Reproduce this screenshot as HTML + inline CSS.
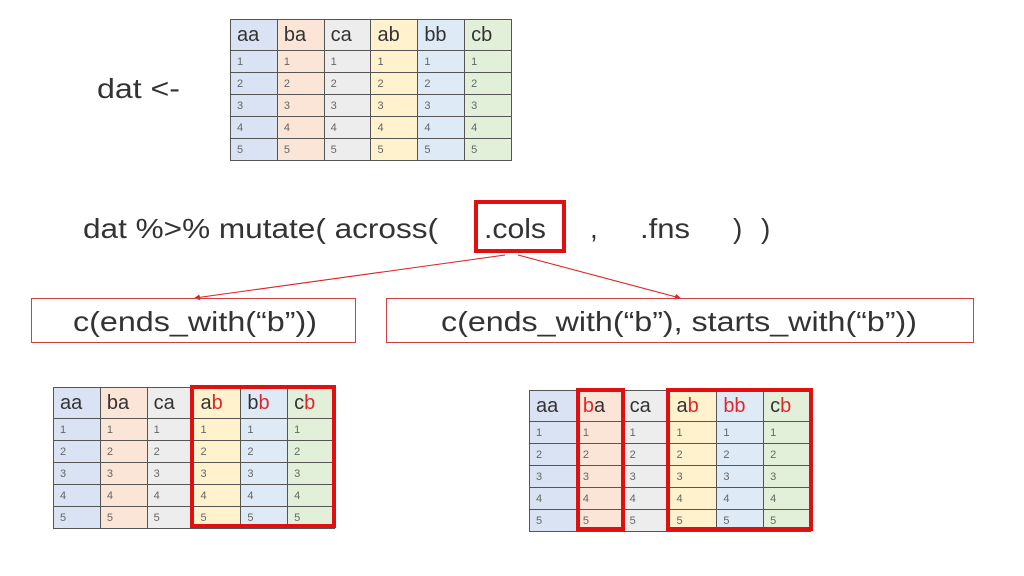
<!DOCTYPE html>
<html><head><meta charset="utf-8"><style>
body{margin:0;width:1024px;height:576px;background:#fff;position:relative;overflow:hidden;font-family:"Liberation Sans","Noto Sans CJK JP",sans-serif}
table{position:absolute;border-collapse:collapse;table-layout:fixed}
td{border:1px solid #555;padding:0 0 0 6px;font-size:11px;color:#666;height:22px;width:46px;box-sizing:border-box}
tr.h td{font-size:20px;color:#333;height:31px}
td:nth-child(1){background:#dae3f3}td:nth-child(2){background:#fbe5d6}td:nth-child(3){background:#ededed}
td:nth-child(4){background:#fff2cc}td:nth-child(5){background:#deebf7}td:nth-child(6){background:#e2f0d9}
.r{color:#e0262b}
.box{position:absolute;border:4px solid #e01010;box-sizing:border-box}
</style></head><body>
<table style="left:230px;top:19px;width:282px">
<tr class="h"><td>aa</td><td>ba</td><td>ca</td><td>ab</td><td>bb</td><td>cb</td></tr>
<tr><td>1</td><td>1</td><td>1</td><td>1</td><td>1</td><td>1</td></tr>
<tr><td>2</td><td>2</td><td>2</td><td>2</td><td>2</td><td>2</td></tr>
<tr><td>3</td><td>3</td><td>3</td><td>3</td><td>3</td><td>3</td></tr>
<tr><td>4</td><td>4</td><td>4</td><td>4</td><td>4</td><td>4</td></tr>
<tr><td>5</td><td>5</td><td>5</td><td>5</td><td>5</td><td>5</td></tr>
</table>
<table style="left:53px;top:387px;width:282px">
<tr class="h"><td>aa</td><td>ba</td><td>ca</td><td>a<span class="r">b</span></td><td>b<span class="r">b</span></td><td>c<span class="r">b</span></td></tr>
<tr><td>1</td><td>1</td><td>1</td><td>1</td><td>1</td><td>1</td></tr>
<tr><td>2</td><td>2</td><td>2</td><td>2</td><td>2</td><td>2</td></tr>
<tr><td>3</td><td>3</td><td>3</td><td>3</td><td>3</td><td>3</td></tr>
<tr><td>4</td><td>4</td><td>4</td><td>4</td><td>4</td><td>4</td></tr>
<tr><td>5</td><td>5</td><td>5</td><td>5</td><td>5</td><td>5</td></tr>
</table>
<table style="left:529px;top:390px;width:282px">
<tr class="h"><td>aa</td><td><span class="r">b</span>a</td><td>ca</td><td>a<span class="r">b</span></td><td><span class="r">bb</span></td><td>c<span class="r">b</span></td></tr>
<tr><td>1</td><td>1</td><td>1</td><td>1</td><td>1</td><td>1</td></tr>
<tr><td>2</td><td>2</td><td>2</td><td>2</td><td>2</td><td>2</td></tr>
<tr><td>3</td><td>3</td><td>3</td><td>3</td><td>3</td><td>3</td></tr>
<tr><td>4</td><td>4</td><td>4</td><td>4</td><td>4</td><td>4</td></tr>
<tr><td>5</td><td>5</td><td>5</td><td>5</td><td>5</td><td>5</td></tr>
</table>
<div class="box" style="left:190px;top:385px;width:146px;height:143px"></div>
<div class="box" style="left:576px;top:388px;width:49px;height:143px"></div>
<div class="box" style="left:666px;top:388px;width:147px;height:143px"></div>
<div class="box" style="left:474px;top:200px;width:92px;height:53px"></div>
<svg width="1024" height="576" style="position:absolute;left:0;top:0" font-family="Liberation Sans, Noto Sans CJK JP, sans-serif" fill="#333">
<defs><marker id="a" markerWidth="6" markerHeight="6" refX="5" refY="3" orient="auto"><path d="M0,0L6,3L0,6z" fill="#e02020"/></marker></defs>
<text x="97" y="98" font-size="28" textLength="83" lengthAdjust="spacingAndGlyphs">dat &lt;-</text>
<text x="83" y="238" font-size="28" textLength="355" lengthAdjust="spacingAndGlyphs">dat %&gt;% mutate(  across(</text>
<text x="484" y="238" font-size="28" textLength="62" lengthAdjust="spacingAndGlyphs">.cols</text>
<text x="590" y="238" font-size="28">,</text>
<text x="640" y="238" font-size="28" textLength="50" lengthAdjust="spacingAndGlyphs">.fns</text>
<text x="733" y="238" font-size="28">)</text>
<text x="761" y="238" font-size="28">)</text>
<line x1="505" y1="255" x2="195" y2="298" stroke="#e02020" stroke-width="1" marker-end="url(#a)"/>
<line x1="518" y1="255" x2="680" y2="298" stroke="#e02020" stroke-width="1" marker-end="url(#a)"/>
<rect x="31.5" y="298.5" width="324" height="44" fill="none" stroke="#d04040"/>
<rect x="386.5" y="298.5" width="587" height="44" fill="none" stroke="#d04040"/>
<text x="73" y="331" font-size="28" textLength="244" lengthAdjust="spacingAndGlyphs">c(ends_with(“b”))</text>
<text x="441" y="331" font-size="28" textLength="476" lengthAdjust="spacingAndGlyphs">c(ends_with(“b”), starts_with(“b”))</text>
</svg>
</body></html>
